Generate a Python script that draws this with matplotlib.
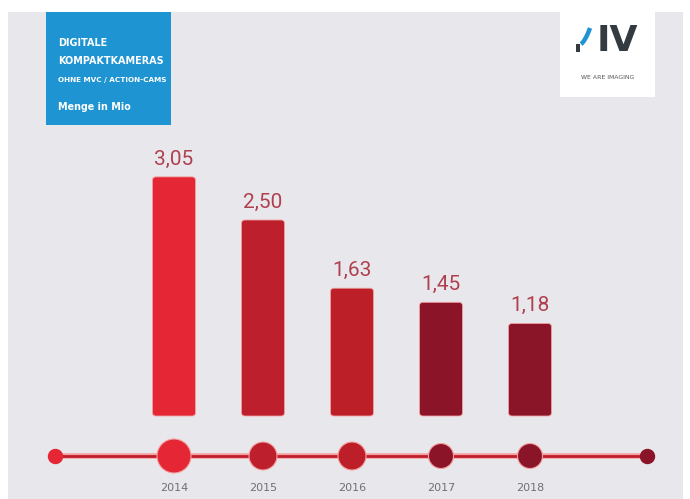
import matplotlib
matplotlib.use('Agg')
import matplotlib.pyplot as plt
from matplotlib.patches import Rectangle, FancyBboxPatch
import matplotlib.transforms as mtransforms
import numpy as np

years = ['2014', '2015', '2016', '2017', '2018']
units_mio = [3.05, 2.50, 1.63, 1.45, 1.18]
value_labels = ['3,05', '2,50', '1,63', '1,45', '1,18']
bar_colors = ['#e52634', '#bd1f2c', '#bc1f27', '#8b1429', '#8a1529']
dot_radius_px = [17, 14, 14, 12.5, 12.5]

W, H = 690, 499
PX = 72 / 100.0  # points per pixel at dpi 100

fig = plt.figure(figsize=(W / 100, H / 100), dpi=100, facecolor='white')

# decoration layer in pixel coordinates
deco = fig.add_axes([0, 0, 1, 1])
deco.set_xlim(0, W)
deco.set_ylim(H, 0)
deco.axis('off')
deco.add_patch(Rectangle((8, 12), 675, 487, color='#e8e8ec', lw=0))

# blue title box
deco.add_patch(Rectangle((46, 12), 125, 113, color='#1e94d2', lw=0))
title_kw = dict(color='white', fontsize=6.9, fontweight='bold', va='center')
deco.text(58, 43, 'DIGITALE', **title_kw)
deco.text(58, 61, 'KOMPAKTKAMERAS', **title_kw)
deco.text(58, 80, 'OHNE MVC / ACTION-CAMS', color='white', fontsize=5.2, fontweight='bold',
          va='center')
deco.text(58, 107, 'Menge in Mio', **title_kw)

# logo box
deco.add_patch(Rectangle((560, 12), 95, 85, color='white', lw=0))
deco.add_patch(Rectangle((575.5, 44), 4, 8, color='#333a40', lw=0))
t = np.linspace(0, 1, 30)
deco.plot(581 + 9 * t ** 0.8, 44 - 16 * t + 4 * t * (1 - t), color='#1e94d2', lw=3.2,
          solid_capstyle='butt')
deco.text(617, 40.5, 'IV', color='#333a40', fontsize=26, fontweight='bold', ha='center',
          va='center', family='DejaVu Sans')
deco.text(608, 77, 'WE ARE IMAGING', color='#555555', fontsize=4.4, ha='center', va='center')

# bar axes: x = year index (spacing 89 px, first at 174 px), y = value (0 at 416 px)
ax = fig.add_axes([0, 0, 1, 1])
ax.patch.set_alpha(0)
ax.axis('off')
x0, dx = 174, 89
ax.set_xlim(-x0 / dx, (W - x0) / dx)
zero_px, scale = H - 416, 78.4
ax.set_ylim(-zero_px / scale, (H - zero_px) / scale)

x = np.arange(len(years))
bw = 43 / dx
aspect = (1 / scale) / (1 / dx)
for xi, v, c, lbl in zip(x, units_mio, bar_colors, value_labels):
    ax.add_patch(FancyBboxPatch((xi - bw / 2, 0), bw, v,
                                boxstyle='round,pad=0,rounding_size=0.04',
                                mutation_aspect=aspect, fc=c, ec='#f0a0a0', lw=0.6))
    ax.annotate(lbl, (xi, v), xytext=(0, 6), textcoords='offset points',
                ha='center', va='bottom', fontsize=15, color='#b0404f', family='Roboto')

# timeline along the bottom
tl = mtransforms.blended_transform_factory(ax.transData, fig.transFigure)
line_y = 1 - 456 / H
ends = [-119 / dx, (647 - x0) / dx]
ax.plot(ends, [line_y, line_y], color='#f4a0a0', lw=4, transform=tl, solid_capstyle='butt')
ax.plot(ends, [line_y, line_y], color='#c01e2c', lw=2, transform=tl, solid_capstyle='butt')
ax.scatter([ends[0]], [line_y], s=(14 * PX) ** 2, color='#e52634', transform=tl, zorder=3)
ax.scatter([ends[1]], [line_y], s=(14 * PX) ** 2, color='#8a1529', transform=tl, zorder=3)
ax.scatter(x, [line_y] * len(x), s=[(2 * r * PX) ** 2 for r in dot_radius_px],
           color=bar_colors, edgecolors='#f4a0a0', linewidths=0.8, transform=tl, zorder=3)
for xi, yr in zip(x, years):
    ax.text(xi, 1 - 488 / H, yr, transform=tl, ha='center', va='center',
            fontsize=8, color='#707070')

fig.savefig('out.png', dpi=100, facecolor='white')
